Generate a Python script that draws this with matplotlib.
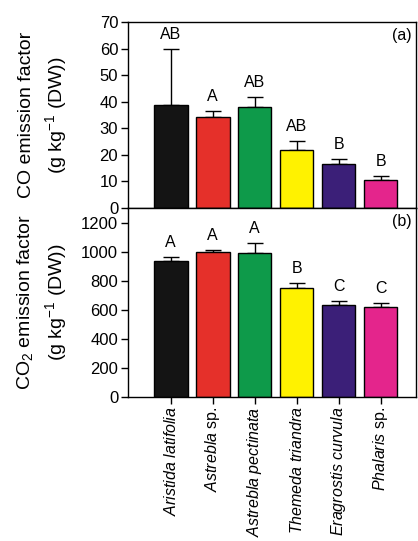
import matplotlib
matplotlib.use("Agg")
import matplotlib.pyplot as plt

plt.rcParams['font.family'] = ['Liberation Sans', 'DejaVu Sans']
plt.rcParams['mathtext.fontset'] = 'custom'
plt.rcParams['mathtext.it'] = 'Liberation Sans:italic'
plt.rcParams['mathtext.rm'] = 'Liberation Sans'

# species and data
species = [r'$\it{Aristida\ latifolia}$', r'$\it{Astrebla}$ sp.', r'$\it{Astrebla\ pectinata}$',
           r'$\it{Themeda\ triandra}$', r'$\it{Eragrostis\ curvula}$', r'$\it{Phalaris}$ sp.']
colors = ['#141414', '#e5302a', '#0e9a4a', '#fff200', '#3b1f78', '#e4258c']

co_mean = [38.8, 34.2, 38.0, 22.0, 16.4, 10.6]
co_err = [21.2, 2.2, 3.9, 3.2, 2.0, 1.5]
co_letters = ['AB', 'A', 'AB', 'AB', 'B', 'B']

co2_mean = [936, 998, 993, 748, 632, 621]
co2_err = [25, 14, 69, 34, 30, 23]
co2_letters = ['A', 'A', 'A', 'B', 'C', 'C']

fig = plt.figure(figsize=(4.18, 5.41), dpi=100)
ax1 = fig.add_axes([0.306, 0.6155, 0.69, 0.3435])
ax2 = fig.add_axes([0.306, 0.2667, 0.69, 0.3488])

x = list(range(len(species)))


def draw(ax, mean, err, letters, ymax, ystep, ylabel, tag):
    ax.bar(x, mean, width=0.8, color=colors, edgecolor='black', linewidth=1, zorder=2)
    ax.errorbar(x, mean, yerr=[[0] * len(err), err], fmt='none', ecolor='black',
                elinewidth=1, capsize=6, capthick=1, zorder=1)
    for xi, m, e, lab in zip(x, mean, err, letters):
        ax.annotate(lab, (xi, m + e), xytext=(0, 5), textcoords='offset points',
                    ha='center', va='bottom', fontsize=11.5)
    ax.set_xlim(-1.02, 5.85)
    ax.set_ylim(0, ymax)
    ax.set_yticks(range(0, int(ymax) + 1, ystep))
    ax.set_xticks(x)
    ax.tick_params(direction='out', length=5, width=1, labelsize=12, pad=2)
    ax.set_ylabel(ylabel, fontsize=14, linespacing=1.4)
    ax.yaxis.set_label_coords(-0.205, 0.5)
    ax.text(0.985, 0.93, tag, transform=ax.transAxes, ha='right', va='center', fontsize=11.5)
    for sp in ax.spines.values():
        sp.set_linewidth(1)


draw(ax1, co_mean, co_err, co_letters, 70, 10,
     'CO emission factor\n(g kg$^{-1}$ (DW))', '(a)')
draw(ax2, co2_mean, co2_err, co2_letters, 1300, 200,
     'CO$_2$ emission factor\n(g kg$^{-1}$ (DW))', '(b)')
ax2.set_yticks(range(0, 1201, 200))
ax1.set_xticklabels([])
ax2.set_xticklabels(species, rotation=90, fontsize=11.5)

fig.savefig('out.png', dpi=100)
